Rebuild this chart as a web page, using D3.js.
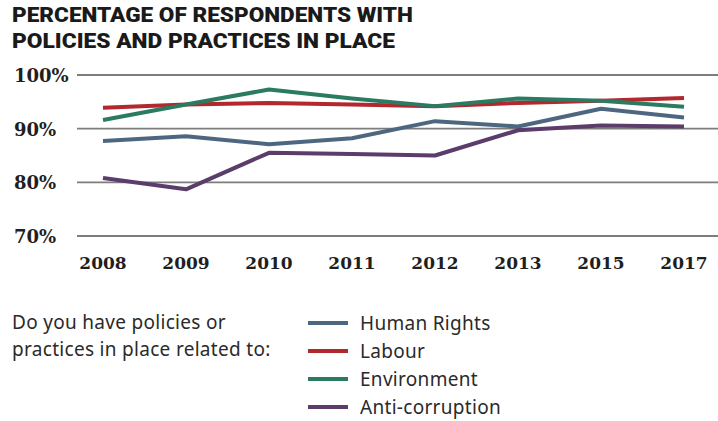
<!DOCTYPE html>
<html>
<head>
<meta charset="utf-8">
<script src="https://cdn.jsdelivr.net/npm/d3@7"></script>
<style>
  body { margin: 0; background: #fff; }
  svg { display: block; }
</style>
</head>
<body>
<svg id="chart"></svg>
<script>
// Data
const years = ["2008", "2009", "2010", "2011", "2012", "2013", "2015", "2017"];
const humanRights = [87.7, 88.6, 87.1, 88.2, 91.4, 90.4, 93.7, 92.1];
const labour = [93.9, 94.5, 94.8, 94.5, 94.2, 94.8, 95.2, 95.7];
const environment = [91.6, 94.5, 97.3, 95.6, 94.2, 95.6, 95.2, 94.1];
const antiCorruption = [80.8, 78.7, 85.5, 85.3, 85.0, 89.7, 90.6, 90.4];
const yTicks = [70, 80, 90, 100];

const titleLines = ["PERCENTAGE OF RESPONDENTS WITH", "POLICIES AND PRACTICES IN PLACE"];
const titleWidths = [401, 383];
const noteLines = ["Do you have policies or", "practices in place related to:"];

const seriesNames = ["Human Rights", "Labour", "Environment", "Anti-corruption"];
const seriesValues = [humanRights, labour, environment, antiCorruption];
const seriesColors = ["#4e6780", "#b3272f", "#2b7a62", "#5b3c6b"];

// Dimensions
const width = 718;
const height = 421;

const xScale = d3.scalePoint()
    .domain(years)
    .range([103, 684]);

const yScale = d3.scaleLinear()
    .domain([70, 100])
    .range([236, 75]);

const svg = d3.select("#chart")
    .attr("width", width)
    .attr("height", height);

// Title
const title = svg.append("g")
    .attr("font-family", "Roboto, 'Noto Sans', sans-serif")
    .attr("font-weight", 900)
    .attr("font-size", 21)
    .attr("fill", "#1a1a1a");

title.selectAll("text")
    .data(titleLines)
    .join("text")
    .attr("x", 12)
    .attr("y", (d, i) => 22 + i * 25.5)
    .attr("textLength", (d, i) => titleWidths[i])
    .attr("lengthAdjust", "spacingAndGlyphs")
    .text(d => d);

// Grid lines + y labels
const grid = svg.append("g");

grid.selectAll("line")
    .data(yTicks)
    .join("line")
    .attr("x1", 77)
    .attr("x2", width)
    .attr("y1", d => yScale(d))
    .attr("y2", d => yScale(d))
    .attr("stroke", "#7d7d7d")
    .attr("stroke-width", 1.8);

grid.selectAll("text")
    .data(yTicks)
    .join("text")
    .attr("x", 14)
    .attr("y", d => yScale(d) + 7)
    .attr("font-family", "'DejaVu Serif', serif")
    .attr("font-weight", "bold")
    .attr("font-size", 18)
    .attr("fill", "#1f1f1f")
    .text(d => d + "%");

// x labels
svg.append("g")
    .selectAll("text")
    .data(years)
    .join("text")
    .attr("x", d => xScale(d))
    .attr("y", 269)
    .attr("text-anchor", "middle")
    .attr("font-family", "'DejaVu Serif', serif")
    .attr("font-weight", "bold")
    .attr("font-size", 17)
    .attr("fill", "#1f1f1f")
    .text(d => d);

// Lines
const line = d3.line()
    .x((d, i) => xScale(years[i]))
    .y(d => yScale(d));

svg.append("g")
    .selectAll("path")
    .data(seriesValues)
    .join("path")
    .attr("fill", "none")
    .attr("stroke", (d, i) => seriesColors[i])
    .attr("stroke-width", 4)
    .attr("stroke-linejoin", "round")
    .attr("d", line);

// Legend
const legendFont = "'Noto Sans', Roboto, sans-serif";

svg.append("g")
    .selectAll("text")
    .data(noteLines)
    .join("text")
    .attr("x", 12)
    .attr("y", (d, i) => 329 + i * 27)
    .attr("font-family", legendFont)
    .attr("font-size", 19)
    .attr("letter-spacing", 0.3)
    .attr("fill", "#2a2a2a")
    .text(d => d);

const legend = svg.append("g")
    .selectAll("g")
    .data(seriesNames)
    .join("g")
    .attr("transform", (d, i) => `translate(308,${323 + i * 28})`);

legend.append("line")
    .attr("x1", 0)
    .attr("x2", 40)
    .attr("stroke", (d, i) => seriesColors[i])
    .attr("stroke-width", 4);

legend.append("text")
    .attr("x", 52)
    .attr("y", 6.5)
    .attr("font-family", legendFont)
    .attr("font-size", 19)
    .attr("letter-spacing", 0.3)
    .attr("fill", "#2a2a2a")
    .text(d => d);
</script>
</body>
</html>
